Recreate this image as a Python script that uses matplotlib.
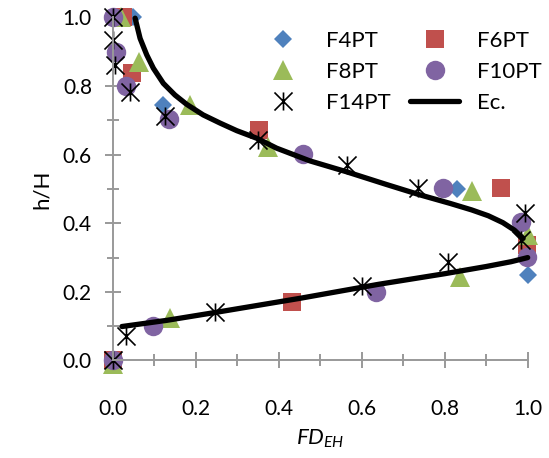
import matplotlib
matplotlib.use('Agg')
import numpy as np
import matplotlib.pyplot as plt
from matplotlib.path import Path
from matplotlib.ticker import MultipleLocator, FormatStrFormatter

# measured series (FD_EH, h/H)
f4_x = [0.0, 0.049, 0.122, 0.829, 1.0]
f4_y = [0.0, 1.0, 0.745, 0.499, 0.249]

f6_x = [0.0, 0.025, 0.046, 0.353, 0.935, 0.998, 0.431]
f6_y = [0.0, 1.0, 0.837, 0.672, 0.502, 0.337, 0.171]

f8_x = [0.0, 0.02, 0.064, 0.186, 0.374, 0.865, 1.0, 0.837, 0.138]
f8_y = [-0.01, 1.0, 0.871, 0.745, 0.622, 0.495, 0.366, 0.244, 0.123]

f10_x = [0.0, 0.008, 0.032, 0.136, 0.459, 0.796, 0.983, 0.998, 0.634, 0.098, 0.0]
f10_y = [1.0, 0.90, 0.80, 0.704, 0.601, 0.503, 0.405, 0.303, 0.20, 0.101, 0.0]

f14_x = [0.0, 0.0, 0.006, 0.042, 0.126, 0.351, 0.565, 0.736, 0.994, 0.985,
         0.809, 0.60, 0.247, 0.032, 0.0]
f14_y = [1.0, 0.934, 0.862, 0.783, 0.713, 0.643, 0.57, 0.502, 0.429, 0.351,
         0.288, 0.217, 0.142, 0.071, 0.0]

# equation curve, two branches (gap between them)
ec_x = [0.054, 0.066, 0.082, 0.098, 0.122, 0.150, 0.178, 0.218, 0.259, 0.299,
        0.347, 0.395, 0.475, 0.564, 0.66, 0.74, 0.813, 0.865, 0.905, 0.94,
        0.968, 0.989, np.nan,
        1.0, 0.96, 0.9, 0.8, 0.64, 0.45, 0.247, 0.13, 0.022]
ec_y = [0.998, 0.939, 0.891, 0.852, 0.808, 0.774, 0.747, 0.716, 0.692, 0.670,
        0.648, 0.619, 0.582, 0.55, 0.513, 0.483, 0.458, 0.439, 0.422, 0.402,
        0.38, 0.356, np.nan,
        0.30, 0.288, 0.274, 0.253, 0.222, 0.181, 0.14, 0.117, 0.099]

plt.rcParams['font.family'] = ['Lato', 'DejaVu Sans']
plt.rcParams['mathtext.fontset'] = 'custom'
plt.rcParams['mathtext.it'] = 'Lato:italic'
plt.rcParams['mathtext.rm'] = 'Lato'

# Excel style star: X plus vertical bar
star = Path([(0, -1), (0, 1), (-1, -1), (1, 1), (-1, 1), (1, -1)],
            [Path.MOVETO, Path.LINETO] * 3)

fig = plt.figure(figsize=(5.49, 4.58), dpi=100)
ax = fig.add_axes([0.2053, 0.2129, 0.7559, 0.7489])

ax.plot(f4_x, f4_y, ls='none', marker='D', ms=9.5, color='#4f81bd', mew=0,
        label='F4PT', clip_on=False)
ax.plot(f6_x, f6_y, ls='none', marker='s', ms=13.5, color='#c0504d', mew=0,
        label='F6PT', clip_on=False)
ax.plot(f8_x, f8_y, ls='none', marker='^', ms=15, color='#9bbb59', mew=0,
        label='F8PT', clip_on=False)
ax.plot(f10_x, f10_y, ls='none', marker='o', ms=14, color='#8064a2', mew=0,
        label='F10PT', clip_on=False)
ax.plot(f14_x, f14_y, ls='none', marker=star, ms=13, mfc='none', mec='black',
        mew=1.2, label='F14PT', clip_on=False)
ax.plot(ec_x, ec_y, color='black', lw=3.8, solid_capstyle='round',
        label='Ec.', clip_on=False)

ax.set_xlim(0, 1)
ax.set_ylim(0, 1)
for s in ['top', 'right']:
    ax.spines[s].set_visible(False)
for s in ['left', 'bottom']:
    ax.spines[s].set_color('#999999')
    ax.spines[s].set_linewidth(1.4)

ax.xaxis.set_major_locator(MultipleLocator(0.2))
ax.xaxis.set_minor_locator(MultipleLocator(0.1))
ax.yaxis.set_major_locator(MultipleLocator(0.2))
ax.yaxis.set_minor_locator(MultipleLocator(0.1))
ax.xaxis.set_major_formatter(FormatStrFormatter('%.1f'))
ax.yaxis.set_major_formatter(FormatStrFormatter('%.1f'))
ax.tick_params(which='major', direction='inout', length=12, width=1.4,
               color='#999999', labelsize=15)
ax.tick_params(which='minor', direction='inout', length=9, width=1.4,
               color='#999999')
ax.tick_params(axis='x', which='major', pad=22)
ax.tick_params(axis='y', which='major', pad=9)

ax.set_xlabel(r'$\mathit{FD}_{\mathit{EH}}$', fontsize=16, labelpad=6)
ax.set_ylabel('h/H', fontsize=16, labelpad=8)

handles, labels = ax.get_legend_handles_labels()
order = [0, 2, 4, 1, 3, 5]
ax.legend([handles[i] for i in order], [labels[i] for i in order], ncol=2,
          frameon=False, fontsize=16, loc='upper right',
          bbox_to_anchor=(1.082, 1.02), handlelength=2.2, columnspacing=0.9,
          labelspacing=0.5)

fig.savefig('out.png', dpi=100)
